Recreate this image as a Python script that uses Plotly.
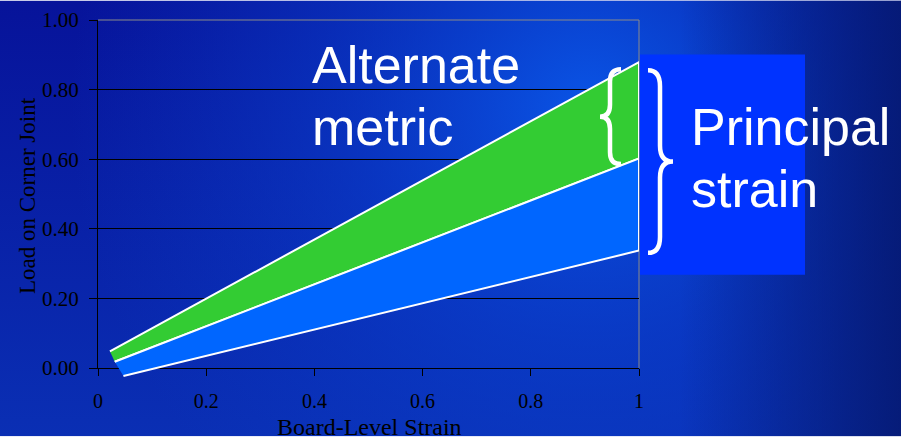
import base64
import plotly.graph_objects as go

# ---- data -------------------------------------------------------------
# Boundary lines of the two bands (board-level strain vs. corner-joint load)
upper_x = [0.022, 1.0]
upper_y = [0.048, 0.879]
middle_x = [0.031, 1.0]
middle_y = [0.018, 0.602]
lower_x = [0.047, 1.0]
lower_y = [-0.023, 0.3375]

x_ticks = [0, 0.2, 0.4, 0.6, 0.8, 1.0]
x_tick_text = ["0", "0.2", "0.4", "0.6", "0.8", "1"]
y_ticks = [0.0, 0.2, 0.4, 0.6, 0.8, 1.0]
y_tick_text = ["0.00", "0.20", "0.40", "0.60", "0.80", "1.00"]

GREEN = "#33CC33"
BLUE = "#0066FF"
BOX_BLUE = "#0033FF"

# ---- page geometry (pixels) ---------------------------------------------
W, H = 910, 437
ML, MR, MT, MB = 98, 271, 19.5, 58.5      # plotting container
PW = W - ML - MR                          # 541
PH = H - MT - MB                          # 359
AXIS_GAP = 10                             # extra room under the x axis


def px(x):
    return (x - ML) / PW


def py(y):
    return (H - MB - y) / PH


# ---- background -------------------------------------------------------
svg = """<svg xmlns='http://www.w3.org/2000/svg' width='901' height='437'>
<defs>
<linearGradient id='base' x1='0' y1='0' x2='0' y2='1'>
<stop offset='0' stop-color='#07139a'/><stop offset='1' stop-color='#0a2fb4'/></linearGradient>
<radialGradient id='glow' gradientUnits='userSpaceOnUse' cx='590' cy='110' r='520'>
<stop offset='0' stop-color='#0a58ea' stop-opacity='0.95'/>
<stop offset='0.45' stop-color='#0a46d6' stop-opacity='0.55'/>
<stop offset='1' stop-color='#0a3cc8' stop-opacity='0'/></radialGradient>
<linearGradient id='edge' gradientUnits='userSpaceOnUse' x1='680' y1='0' x2='901' y2='0'>
<stop offset='0' stop-color='#05186e' stop-opacity='0'/>
<stop offset='1' stop-color='#05186e' stop-opacity='0.85'/></linearGradient>
</defs>
<rect width='901' height='437' fill='url(#base)'/>
<rect width='901' height='437' fill='url(#glow)'/>
<rect width='901' height='437' fill='url(#edge)'/>
</svg>"""
bg_src = "data:image/svg+xml;base64," + base64.b64encode(svg.encode()).decode()

fig = go.Figure()

# empty trace so the main x/y subplot (axes, grid) is drawn
fig.add_trace(go.Scatter(x=[None], y=[None], xaxis="x", yaxis="y",
                         mode="lines", hoverinfo="skip", showlegend=False))

# green band: between the upper and middle lines
fig.add_trace(go.Scatter(
    x=upper_x + middle_x[::-1], y=upper_y + middle_y[::-1],
    fill="toself", fillcolor=GREEN, mode="lines",
    line=dict(color="white", width=2), xaxis="x", yaxis="y2",
    hoverinfo="skip", showlegend=False))
# blue band: between the middle and lower lines
fig.add_trace(go.Scatter(
    x=middle_x + lower_x[::-1], y=middle_y + lower_y[::-1],
    fill="toself", fillcolor=BLUE, mode="lines",
    line=dict(color="white", width=2), xaxis="x", yaxis="y2",
    hoverinfo="skip", showlegend=False))

serif = "Liberation Serif"
sans = "Liberation Sans"

y_dom0 = AXIS_GAP / PH
scale = (PH - AXIS_GAP)  # pixels per unit load

fig.update_layout(
    template="none",
    width=W, height=H,
    margin=dict(l=ML, r=MR, t=MT, b=MB, pad=0, autoexpand=False),
    paper_bgcolor="white",
    plot_bgcolor="rgba(0,0,0,0)",
    showlegend=False,
    xaxis=dict(range=[0, 1], anchor="y", tickvals=x_ticks, ticktext=x_tick_text,
               ticks="outside", ticklen=7, tickcolor="black", tickwidth=1,
               showline=True, linecolor="black", linewidth=1, automargin=False,
               showgrid=False, zeroline=False, ticklabelstandoff=8,
               tickfont=dict(family=serif, size=20, color="black")),
    yaxis=dict(range=[0, 1], domain=[y_dom0, 1], anchor="x",
               tickvals=y_ticks, ticktext=y_tick_text,
               ticks="outside", ticklen=8, tickcolor="black", tickwidth=1,
               showline=True, linecolor="black", linewidth=1, automargin=False,
               showgrid=True, gridcolor="black", gridwidth=1,
               zeroline=False, ticklabelstandoff=6,
               tickfont=dict(family=serif, size=21, color="black")),
    yaxis2=dict(range=[-AXIS_GAP / scale, 1], domain=[0, 1], anchor="x",
                visible=False, showgrid=False, zeroline=False, automargin=False),
    images=[dict(source=bg_src, xref="paper", yref="paper",
                 x=px(0), y=py(0), sizex=901 / PW, sizey=437 / PH,
                 xanchor="left", yanchor="top", sizing="stretch", layer="below")],
)


def brace(x_end, x_stem, x_tip, y_top, y_bot, r):
    """Curly brace path in paper coordinates, tip pointing toward x_tip."""
    y_mid = (y_top + y_bot) / 2
    pts = [
        ("M", [(x_end, y_top)]),
        ("Q", [(x_stem, y_top), (x_stem, y_top + r)]),
        ("L", [(x_stem, y_mid - r)]),
        ("Q", [(x_stem, y_mid), (x_tip, y_mid)]),
        ("Q", [(x_stem, y_mid), (x_stem, y_mid + r)]),
        ("L", [(x_stem, y_bot - r)]),
        ("Q", [(x_stem, y_bot), (x_end, y_bot)]),
    ]
    out = []
    for cmd, coords in pts:
        out.append(cmd + " ".join(f"{px(a):.5f},{py(b):.5f}" for a, b in coords))
    return " ".join(out)


shapes = [
    # frame: top and right edges of the plot area
    dict(type="line", xref="paper", yref="paper", x0=0, x1=1, y0=1, y1=1,
         line=dict(color="#8a8a8a", width=1), layer="above"),
    dict(type="line", xref="paper", yref="paper", x0=1, x1=1, y0=y_dom0, y1=1,
         line=dict(color="#8a8a8a", width=1), layer="below"),
    # label box
    dict(type="rect", xref="paper", yref="paper",
         x0=px(640), x1=px(805), y0=py(54), y1=py(275),
         fillcolor=BOX_BLUE, line=dict(width=0), layer="above"),
    # braces
    dict(type="path", xref="paper", yref="paper",
         path=brace(621, 610, 600, 69, 164, 12),
         line=dict(color="white", width=4.5), layer="above"),
    dict(type="path", xref="paper", yref="paper",
         path=brace(648, 660, 673, 70, 253, 16),
         line=dict(color="white", width=4.5), layer="above"),
]
fig.update_layout(shapes=shapes)


def big_label(text, x_left, y_mid):
    return dict(text=text, xref="paper", yref="paper",
                x=px(x_left), y=py(y_mid), xanchor="left", yanchor="middle",
                align="left", showarrow=False,
                font=dict(family=sans, size=52, color="white"))


annotations = [
    big_label("Alternate", 310, 65),
    big_label("metric", 310, 127),
    big_label("Principal", 689, 127),
    big_label("strain", 689, 189),
    dict(text="Load on Corner Joint", xref="paper", yref="paper",
         x=px(27), y=py(196), xanchor="center", yanchor="middle", textangle=-90,
         showarrow=False, font=dict(family=serif, size=23, color="black")),
    dict(text="Board-Level Strain", xref="paper", yref="paper",
         x=px(369), y=py(428), xanchor="center", yanchor="middle",
         showarrow=False, font=dict(family=serif, size=24, color="black")),
]
fig.update_layout(annotations=annotations)

fig.write_html("out.html")
